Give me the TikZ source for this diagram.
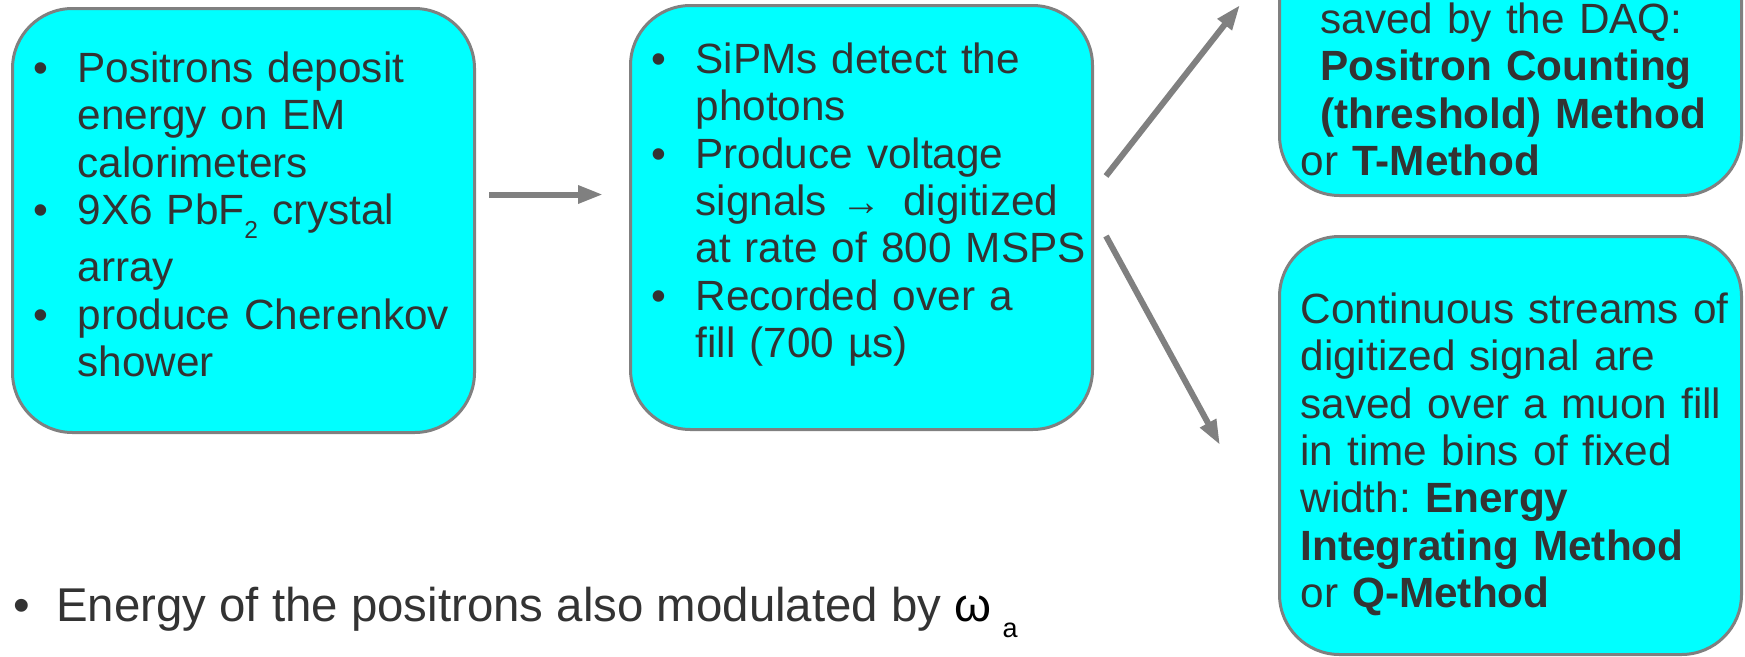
\documentclass[tikz,border=0pt]{standalone}
\usepackage{fontspec}
\setmainfont{Liberation Sans}
\usetikzlibrary{positioning,arrows.meta}

\definecolor{boxcyan}{HTML}{00FFFF}
\definecolor{rimgray}{HTML}{808080}
\definecolor{arrgray}{HTML}{808080}
\definecolor{txtgray}{HTML}{333333}

\frenchspacing
\newcommand{\boxfont}{\fontsize{42.3}{47.3}\selectfont}
\newcommand{\spill}{\rightskip=0pt plus 1fil minus 60pt\relax}
\newcommand{\nl}{\unskip\nobreak\hfil\break}
\newcommand{\bul}[1]{\noindent\hangindent=44pt\hangafter=1\makebox[44pt][l]{\textbullet}#1\par}

\begin{document}
\begin{tikzpicture}[x=1pt, y=-1pt, node distance={153pt},
    main/.style = {draw=rimgray, line width=3pt, fill=boxcyan, rounded corners=60pt,
                   text=txtgray, font=\boxfont, inner xsep=21pt, inner ysep=0pt, text width=420pt},
    arr/.style = {color=arrgray, line width=6pt, -{Triangle[length=25pt, width=17pt]}}]
    \useasboundingbox[fill=white] (0,0) rectangle (1745,656);

    \node[main, text height=74pt, text depth=350pt, anchor=north west] (1) at (11,7)
        {\spill
         \bul{Positrons deposit\nl energy on EM\nl calorimeters}
         \bul{9X6 PbF\raisebox{-14pt}{\fontsize{24.5}{25}\selectfont 2} crystal\vadjust{\vskip10pt}\nl array}
         \bul{produce Cherenkov\nl shower}};
    \node[main, text height=68pt, text depth=356pt, right=of 1, yshift=3pt] (2)
        {\spill
         \bul{SiPMs detect the\nl photons}
         \bul{Produce voltage\nl signals \makebox[62pt][l]{\fontsize{40}{40}\selectfont →}digitized\nl at rate of 800 MSPS}
         \bul{Recorded over a\nl fill (700 µs)}};
    \node[main, text height=275pt, text depth=162pt, anchor=south west] (3) at (1278,197)
        {\spill\leftskip=20pt
         saved by the DAQ:\\
         \textbf{Positron Counting}\\
         \textbf{(threshold) Method}\\
         or \textbf{T-Method}};
    \node[main, text height=87pt, text depth=331pt, below=38pt of 3] (4)
        {\spill
         Continuous streams of\\
         digitized signal are\\
         saved over a muon fill\\
         in time bins of fixed\\
         width: \textbf{Energy}\\
         \textbf{Integrating Method}\\
         or \textbf{Q-Method}};
    \node[font=\fontsize{47.4}{50}\selectfont, text=txtgray, inner sep=0pt, anchor=base west] (5) at (13,621)
        {\makebox[43pt][l]{\textbullet}Energy of the positrons also modulated by
         {\color{black}ω\hspace{11pt}\raisebox{-16pt}{\fontsize{27}{27}\selectfont a}}};

    \coordinate (u1) at (1106,176);
    \coordinate (u2) at (1240,5);
    \coordinate (d1) at (1106,236);
    \coordinate (d2) at (1220,445);

    \path[arr, shorten <=13pt, shorten >=26pt] ([yshift=26pt]1.east) edge ([yshift=23pt]2.west);

    \path[arr] (u1) edge (u2);

    \path[arr] (d1) edge (d2);
\end{tikzpicture}
\end{document}
